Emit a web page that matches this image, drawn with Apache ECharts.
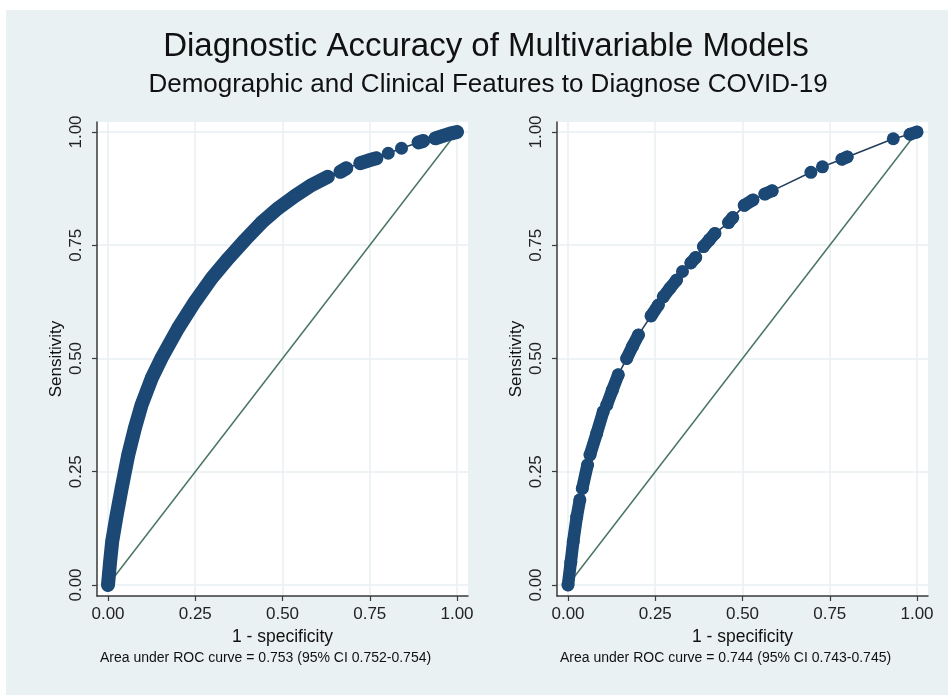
<!DOCTYPE html>
<html>
<head>
<meta charset="utf-8">
<script src="https://cdn.jsdelivr.net/npm/echarts@6/dist/echarts.min.js"></script>
<style>
html,body{margin:0;padding:0;background:#ffffff;width:948px;height:695px;overflow:hidden;}
#chart{position:absolute;left:6px;top:10px;width:942px;height:685px;}
</style>
</head>
<body>
<div id="chart"></div>
<script>
// ---- data (null separates runs of overlapping markers) ----
const tickValues = [0, 0.25, 0.5, 0.75, 1];
const refX = [0, 1];
const refY = [0, 1];

const leftFpr = [0, 0.006, 0.012, 0.025, 0.039, 0.058, 0.077, 0.096, 0.125, 0.154, 0.201, 0.249, 0.297, 0.345, 0.393, 0.440, 0.488, 0.536, 0.584, 0.630,
  null, 0.666, 0.683,
  null, 0.723, 0.746, 0.769,
  null, 0.803,
  null, 0.841,
  null, 0.890, 0.903,
  null, 0.938, 0.962, 0.984, 1.0];
const leftSens = [0, 0.051, 0.096, 0.155, 0.213, 0.287, 0.346, 0.397, 0.456, 0.502, 0.567, 0.625, 0.677, 0.721, 0.762, 0.800, 0.832, 0.859, 0.883, 0.901,
  null, 0.912, 0.920,
  null, 0.931, 0.937, 0.942,
  null, 0.953,
  null, 0.964,
  null, 0.977, 0.980,
  null, 0.986, 0.992, 0.997, 1.0];

const rightFpr = [0, 0.008, 0.015, 0.025, 0.034,
  null, 0.041, 0.056,
  null, 0.063, 0.082, 0.101,
  null, 0.111, 0.127, 0.144,
  null, 0.168, 0.185, 0.202,
  null, 0.238, 0.259,
  null, 0.273, 0.292, 0.311,
  null, 0.328,
  null, 0.352, 0.366,
  null, 0.388, 0.405, 0.421,
  null, 0.460, 0.472,
  null, 0.505, 0.530,
  null, 0.564, 0.585,
  null, 0.696,
  null, 0.729,
  null, 0.785, 0.800,
  null, 0.932,
  null, 0.980, 1.0];
const rightSens = [0, 0.050, 0.096, 0.150, 0.188,
  null, 0.213, 0.265,
  null, 0.287, 0.334, 0.383,
  null, 0.397, 0.430, 0.464,
  null, 0.500, 0.527, 0.552,
  null, 0.594, 0.618,
  null, 0.636, 0.655, 0.673,
  null, 0.692,
  null, 0.711, 0.723,
  null, 0.747, 0.762, 0.776,
  null, 0.800, 0.811,
  null, 0.838, 0.850,
  null, 0.863, 0.870,
  null, 0.911,
  null, 0.923,
  null, 0.940, 0.945,
  null, 0.985,
  null, 0.995, 1.0];

const titleText = 'Diagnostic Accuracy of Multivariable Models';
const subtitleText = 'Demographic and Clinical Features to Diagnose COVID-19';
const leftNote = 'Area under ROC curve = 0.753 (95% CI 0.752-0.754)';
const rightNote = 'Area under ROC curve = 0.744 (95% CI 0.743-0.745)';
const xName = '1 - specificity';
const yName = 'Sensitivity';

// ---- helpers ----
const FONT = '"Liberation Sans", Arial, Helvetica, sans-serif';
const NAVY = '#1b4874';
const GREEN = '#4a7560';

function runsData(xs, ys) {
  return xs.map((x, i) => x === null ? ['-', '-'] : [x, ys[i]]);
}
function pointsData(xs, ys) {
  return xs.map((x, i) => [x, ys[i]]).filter(p => p[0] !== null);
}

function xAxisCfg(gi) {
  return {
    type: 'value', gridIndex: gi, min: -0.0315, max: 1.0315,
    axisLine: { show: true, onZero: false, lineStyle: { color: '#3a3a3a', width: 1.5 } },
    axisTick: { show: true, length: 5, customValues: tickValues, lineStyle: { color: '#3a3a3a', width: 1.2 } },
    axisLabel: { customValues: tickValues, formatter: v => v.toFixed(2), fontSize: 17, color: '#222', margin: 10, fontFamily: FONT },
    splitLine: { show: true, lineStyle: { color: '#e8eff2', width: 1.5 } },
    name: xName, nameLocation: 'middle', nameGap: 29,
    nameTextStyle: { fontSize: 17.5, color: '#111', fontFamily: FONT }
  };
}
function yAxisCfg(gi) {
  return {
    type: 'value', gridIndex: gi, min: -0.0243, max: 1.022,
    axisLine: { show: true, onZero: false, lineStyle: { color: '#3a3a3a', width: 1.5 } },
    axisTick: { show: true, length: 5, customValues: tickValues, lineStyle: { color: '#3a3a3a', width: 1.2 } },
    axisLabel: { customValues: tickValues, formatter: v => v.toFixed(2), fontSize: 17, color: '#222', margin: 12, rotate: 90, fontFamily: FONT },
    splitLine: { show: true, lineStyle: { color: '#e8eff2', width: 1.5 } },
    name: yName, nameLocation: 'middle', nameGap: 32, nameRotate: 90,
    nameTextStyle: { fontSize: 17, color: '#111', fontFamily: FONT }
  };
}
function panelSeries(gi, xs, ys, bandWidth, markerSize) {
  return [
    { type: 'line', xAxisIndex: gi, yAxisIndex: gi, data: refX.map((x, i) => [x, refY[i]]),
      showSymbol: false, lineStyle: { color: GREEN, width: 1.5 }, z: 2, silent: true },
    { type: 'line', xAxisIndex: gi, yAxisIndex: gi, data: pointsData(xs, ys),
      showSymbol: false, lineStyle: { color: '#243f5c', width: 1.6 }, z: 3, silent: true },
    { type: 'line', xAxisIndex: gi, yAxisIndex: gi, data: runsData(xs, ys), connectNulls: false,
      showSymbol: false, lineStyle: { color: NAVY, width: bandWidth, cap: 'round', join: 'round' }, z: 4, silent: true },
    { type: 'scatter', xAxisIndex: gi, yAxisIndex: gi, data: pointsData(xs, ys),
      symbol: 'circle', symbolSize: markerSize, itemStyle: { color: NAVY, opacity: 1 }, z: 5, silent: true }
  ];
}

const chart = echarts.init(document.getElementById('chart'), null, { renderer: 'canvas' });
chart.setOption({
  animation: false,
  backgroundColor: '#e9f1f3',
  grid: [
    { left: 91, top: 112, width: 371, height: 474, show: true, backgroundColor: '#ffffff', borderWidth: 0 },
    { left: 551, top: 112, width: 371, height: 474, show: true, backgroundColor: '#ffffff', borderWidth: 0 }
  ],
  xAxis: [xAxisCfg(0), xAxisCfg(1)],
  yAxis: [yAxisCfg(0), yAxisCfg(1)],
  series: [].concat(panelSeries(0, leftFpr, leftSens, 14, 13), panelSeries(1, rightFpr, rightSens, 12.5, 13)),
  graphic: [
    { type: 'text', x: 480, y: 37, style: { text: titleText, font: '33px ' + FONT, fill: '#111', align: 'center', verticalAlign: 'middle' } },
    { type: 'text', x: 482, y: 75, style: { text: subtitleText, font: '26px ' + FONT, fill: '#111', align: 'center', verticalAlign: 'middle' } },
    { type: 'text', x: 94, y: 648, style: { text: leftNote, font: '14px ' + FONT, fill: '#111', align: 'left', verticalAlign: 'middle' } },
    { type: 'text', x: 554, y: 648, style: { text: rightNote, font: '14px ' + FONT, fill: '#111', align: 'left', verticalAlign: 'middle' } }
  ]
});
</script>
</body>
</html>
